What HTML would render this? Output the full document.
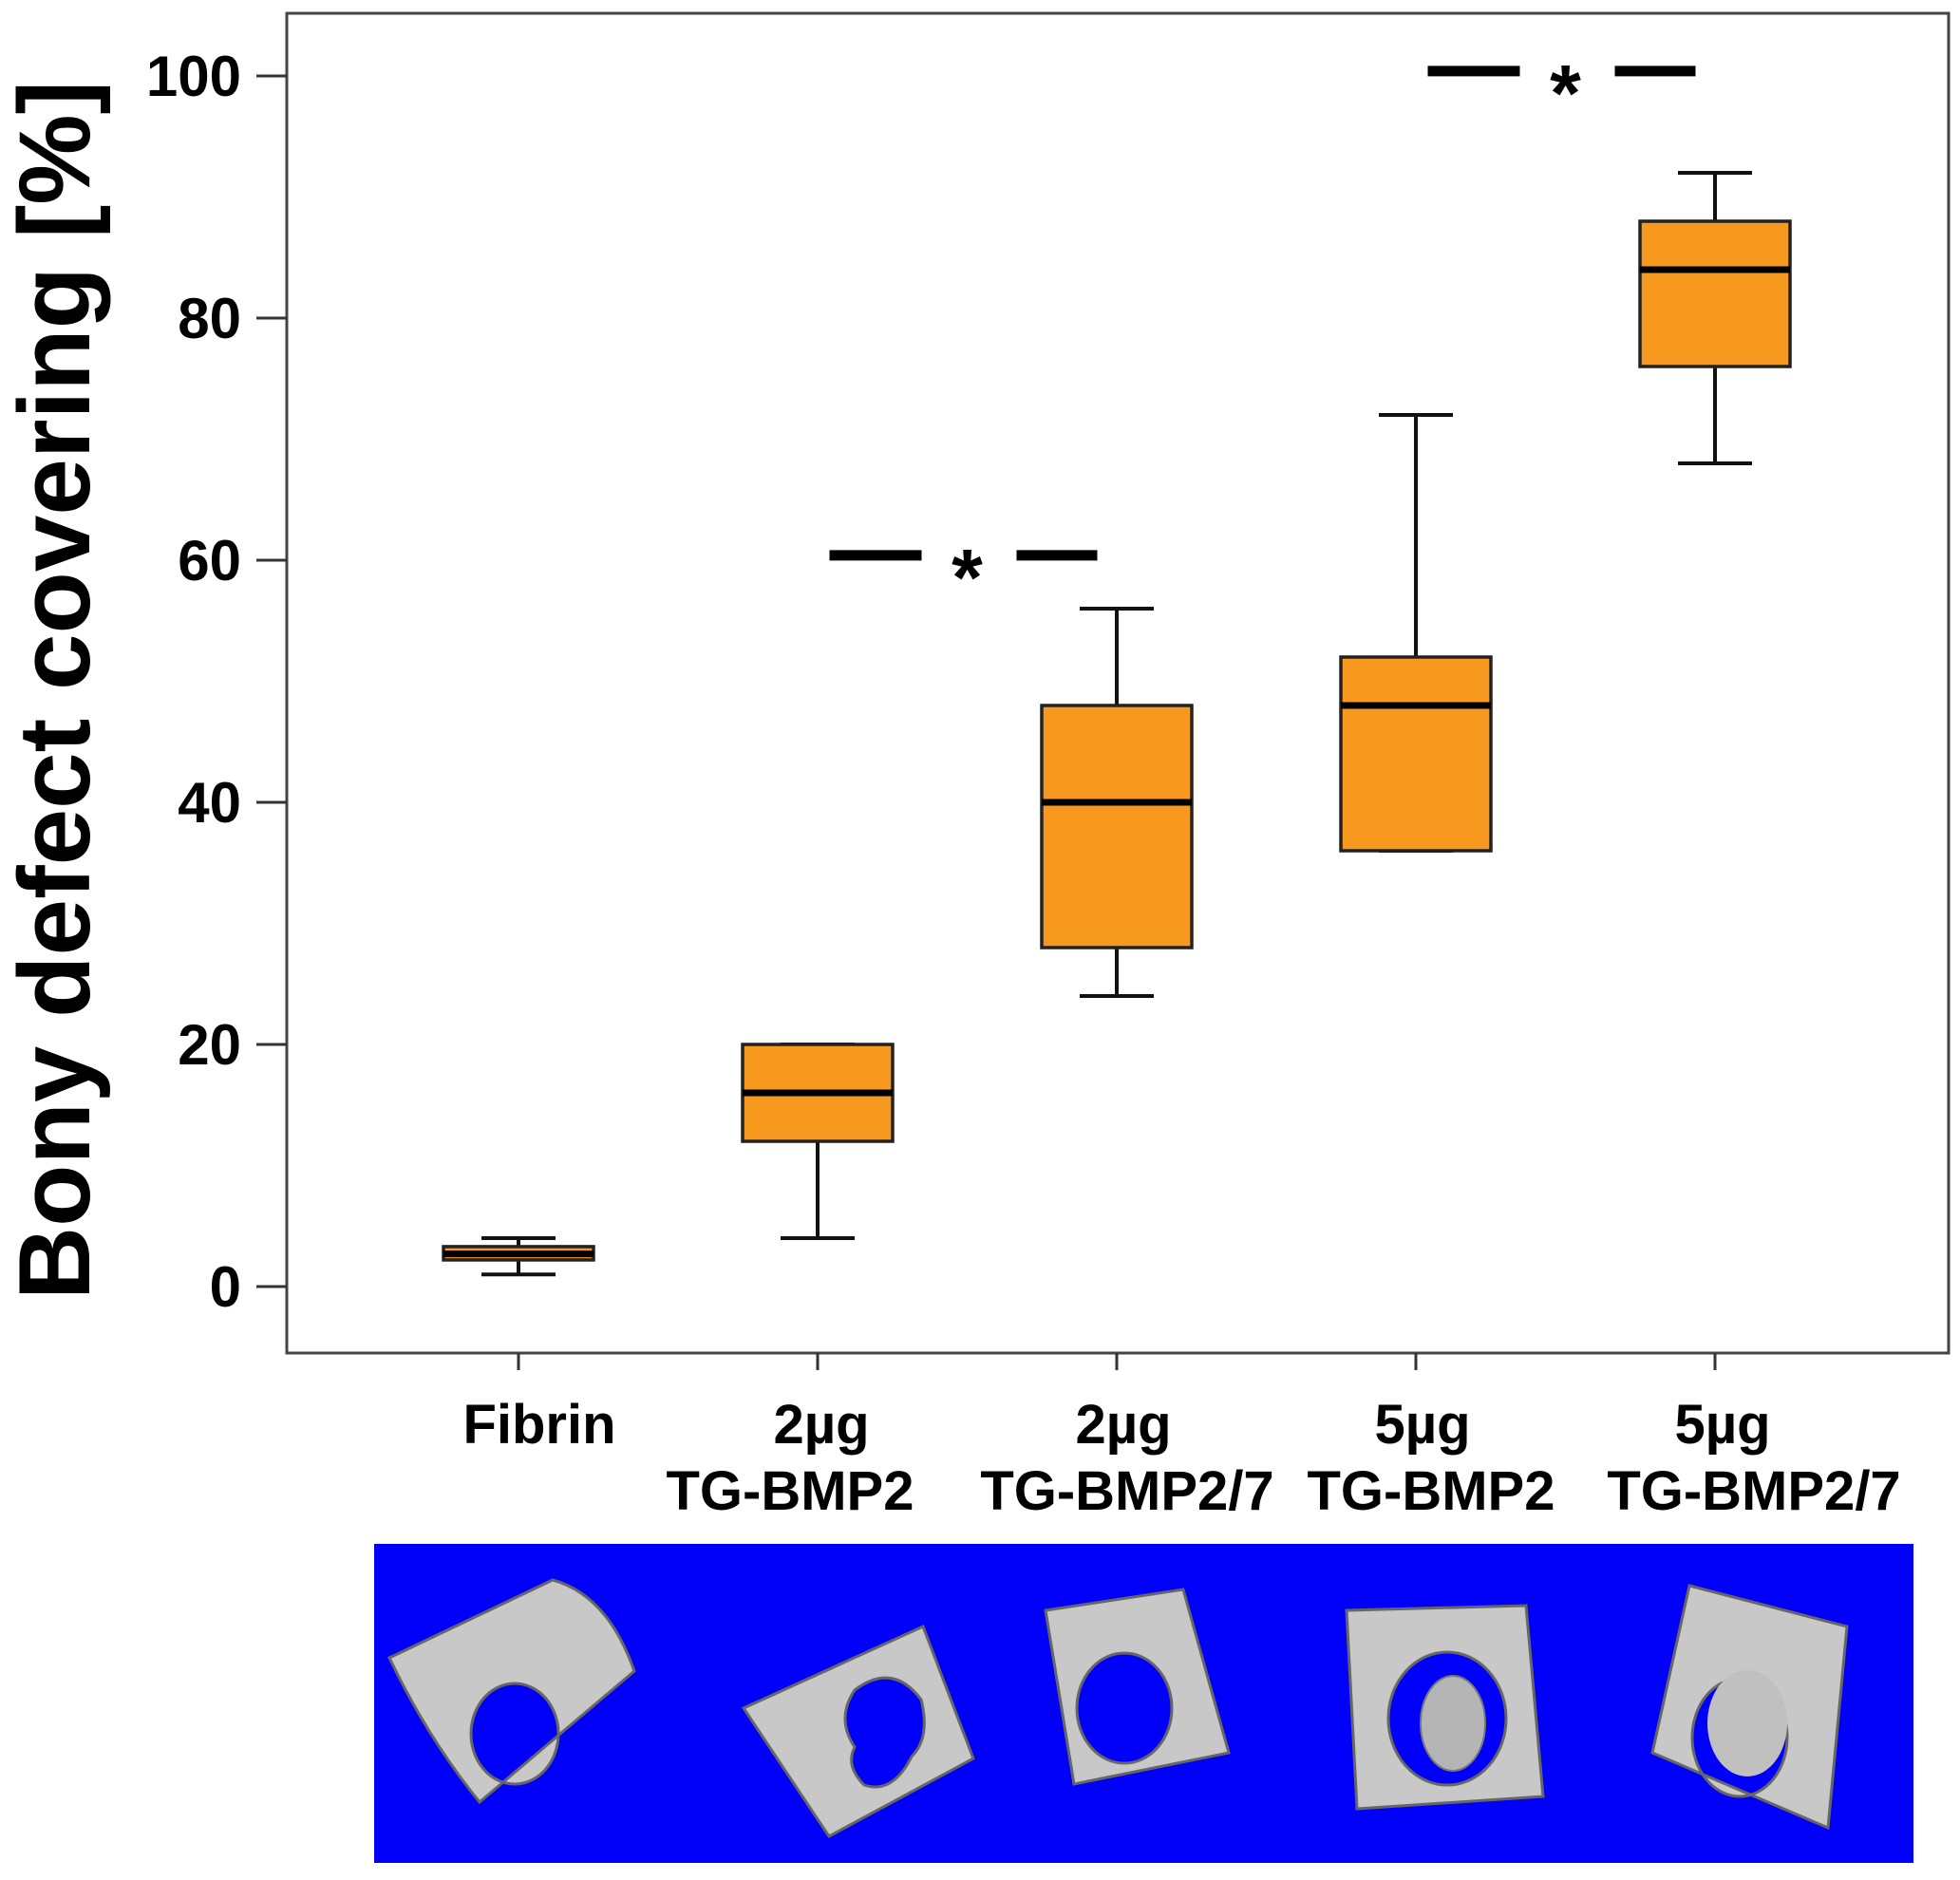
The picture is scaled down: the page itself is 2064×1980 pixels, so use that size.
<!DOCTYPE html>
<html><head><meta charset="utf-8"><style>
html,body{margin:0;padding:0;background:#fff;}
svg{display:block;font-family:"Liberation Sans",Arial,sans-serif;}
</style></head><body>
<svg id="chart" width="2064" height="1980" viewBox="0 0 2064 1980">
  <rect x="302" y="14" width="1750" height="1411" fill="#fff" stroke="#444" stroke-width="3"/>
  <g id="yaxis"></g>
  <g id="xaxis"></g>
  <g id="boxes"></g>
  <g id="sig"></g>
  <text transform="translate(94,727) rotate(-90)" text-anchor="middle" font-size="107" font-weight="bold">Bony defect covering [%]</text>
  <g>
    <rect x="394" y="1626" width="1621" height="336" fill="#0000fa"/>
    <path d="M410 1746 L582 1664 Q640 1680 668 1760 L505 1898 Q450 1830 410 1746 Z M496 1826 a46 53 0 1 0 92 0 a46 53 0 1 0 -92 0 Z" fill="#c8c8c8" fill-rule="evenodd" stroke="#666" stroke-width="3"/>
    <path d="M783 1799 L972 1713 L1025 1852 L873 1934 Z M900 1780 q40 -30 70 10 q10 40 -10 60 q-20 40 -50 30 q-20 -20 -10 -40 q-20 -30 0 -60 Z" fill="#c8c8c8" fill-rule="evenodd" stroke="#666" stroke-width="3"/>
    <path d="M1101 1696 L1246 1674 L1294 1846 L1131 1879 Z M1134 1799 a50 58 0 1 0 100 0 a50 58 0 1 0 -100 0 Z" fill="#c8c8c8" fill-rule="evenodd" stroke="#666" stroke-width="3"/>
    <path d="M1418 1696 L1607 1691 L1625 1892 L1429 1905 Z M1462 1810 a62 70 0 1 0 124 0 a62 70 0 1 0 -124 0 Z" fill="#c8c8c8" fill-rule="evenodd" stroke="#666" stroke-width="3"/>
    <ellipse cx="1530" cy="1815" rx="34" ry="50" fill="#b5b5b5" stroke="#777" stroke-width="2"/>
    <path d="M1779 1670 L1945 1713 L1925 1925 L1740 1846 Z M1782 1830 a50 62 0 1 0 100 0 a50 62 0 1 0 -100 0 Z" fill="#c8c8c8" fill-rule="evenodd" stroke="#666" stroke-width="3"/>
    <ellipse cx="1840" cy="1815" rx="42" ry="56" fill="#c0c0c0"/>
  </g>
</svg>
<script>
const categories = ["Fibrin", "2µg TG-BMP2", "2µg TG-BMP2/7", "5µg TG-BMP2", "5µg TG-BMP2/7"];
const labelLine1 = ["Fibrin", "2µg", "2µg", "5µg", "5µg"];
const labelLine2 = ["", "TG-BMP2", "TG-BMP2/7", "TG-BMP2", "TG-BMP2/7"];
const whiskerLow = [1, 4, 24, 36, 68];
const q1 = [2.2, 12, 28, 36, 76];
const median = [2.7, 16, 40, 48, 84];
const q3 = [3.3, 20, 48, 52, 88];
const whiskerHigh = [4, 20, 56, 72, 92];
const yTicks = [0, 20, 40, 60, 80, 100];
const sigLevels = [60.4, 100.4];
const sigPairs = [[1, 2], [3, 4]];

const NS = "http://www.w3.org/2000/svg";
const off1 = [22, 4, 7, 7, 8];
const off2 = [0, -29, 11, 16, 41];
function y(v){ return 1355 - v * 12.75; }
function x(i){ return 546 + i * 315; }
function mk(tag, attrs, parent){
  const e = document.createElementNS(NS, tag);
  for (const k in attrs) e.setAttribute(k, attrs[k]);
  parent.appendChild(e); return e;
}
const yaxis = document.getElementById('yaxis');
yTicks.forEach(t => {
  const l = mk('line', {x1: 270, x2: 302, y1: y(t), y2: y(t), stroke: '#333', 'stroke-width': 3}, yaxis);
  
  
  const tx = mk('text', {x: 254, y: y(t) + 21, 'text-anchor': 'end', 'font-size': 60, 'font-weight': 'bold'}, yaxis);
  tx.textContent = t;
  
  
});
const xaxis = document.getElementById('xaxis');
categories.forEach((c, i) => {
  const l = mk('line', {x1: x(i), x2: x(i), y1: 1425, y2: 1443, stroke: '#333', 'stroke-width': 3}, xaxis);
  
  
  const t1 = mk('text', {x: x(i) + off1[i], y: 1520, 'text-anchor': 'middle', 'font-size': 58, 'font-weight': 'bold'}, xaxis);
  t1.textContent = labelLine1[i];
  
  
  if (labelLine2[i]) {
    const t2 = mk('text', {x: x(i) + off2[i], y: 1590, 'text-anchor': 'middle', 'font-size': 58, 'font-weight': 'bold'}, xaxis);
    t2.textContent = labelLine2[i];
    
    
  }
});
const boxes = document.getElementById('boxes');
const bw = 158, cw = 78;
categories.forEach((c, i) => {
  const g = mk('g', {}, boxes);
  
  
  const cx = x(i);
  mk('line', {x1: cx, x2: cx, y1: y(whiskerHigh[i]), y2: y(q3[i]), stroke: '#111', 'stroke-width': 4}, g);
  mk('line', {x1: cx, x2: cx, y1: y(q1[i]), y2: y(whiskerLow[i]), stroke: '#111', 'stroke-width': 4}, g);
  mk('line', {x1: cx - cw/2, x2: cx + cw/2, y1: y(whiskerHigh[i]), y2: y(whiskerHigh[i]), stroke: '#111', 'stroke-width': 4}, g);
  mk('line', {x1: cx - cw/2, x2: cx + cw/2, y1: y(whiskerLow[i]), y2: y(whiskerLow[i]), stroke: '#111', 'stroke-width': 4}, g);
  mk('rect', {x: cx - bw/2, y: y(q3[i]), width: bw, height: y(q1[i]) - y(q3[i]), fill: '#f7991f', stroke: '#222', 'stroke-width': 3.5}, g);
  mk('line', {x1: cx - bw/2, x2: cx + bw/2, y1: y(median[i]), y2: y(median[i]), stroke: '#000', 'stroke-width': 7}, g);
});
const sig = document.getElementById('sig');
sigPairs.forEach((p, k) => {
  const a = x(p[0]), b = x(p[1]), m = (a + b) / 2, yy = y(sigLevels[k]);
  const g = mk('g', {}, sig);
  
  
  mk('line', {x1: m - 145, x2: m - 48, y1: yy, y2: yy, stroke: '#000', 'stroke-width': 11}, g);
  mk('line', {x1: m + 52, x2: m + 137, y1: yy, y2: yy, stroke: '#000', 'stroke-width': 11}, g);
  const s = mk('text', {x: m, y: yy + 52, 'text-anchor': 'middle', 'font-size': 84, 'font-weight': 'bold'}, g);
  s.textContent = '*';
});
</script>
</body></html>
